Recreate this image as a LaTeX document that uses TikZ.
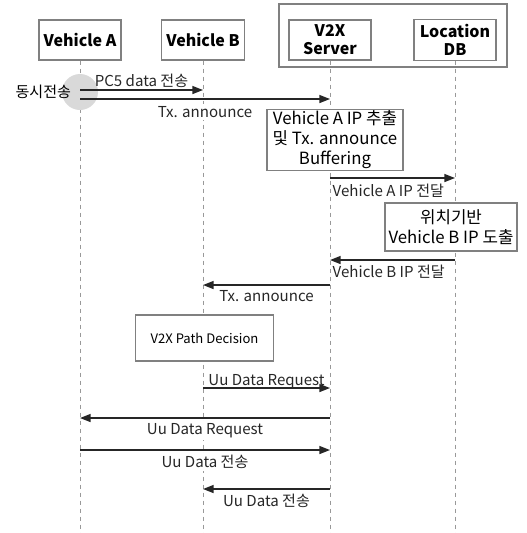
\documentclass[tikz,border=0pt]{standalone}
\usepackage{fontspec}
\setmainfont{Noto Sans CJK KR}
\usepackage{tikz}
\usetikzlibrary{arrows.meta, positioning}
\colorlet{colorBox}{black!50}
\colorlet{colorLife}{black!40}
\colorlet{colorMsg}{black!85}
\tikzset{
  actor/.style={draw=colorBox, fill=white, thick, minimum width=61.5pt, minimum height=30pt, align=center, font=\bfseries\fontsize{12}{13.5}\selectfont},
  life/.style={colorLife, dash pattern=on 3pt off 3pt},
  msg/.style={->, colorMsg, line width=1.1pt},
  lbl/.style={font=\fontsize{11.3}{13}\selectfont, inner sep=1.5pt},
  work/.style={draw=colorBox, fill=white, thick, align=center, inner sep=1pt, font=\fontsize{12.6}{15}\selectfont},
}

\begin{document}
\begin{tikzpicture}[x=0.75pt, y=-0.75pt, >={Triangle[length=8pt, width=6pt]}]
\useasboundingbox (0,0) rectangle (526,533);
% server side group
\draw[colorBox, thick] (279,4) rectangle (507,67);
\node[actor] (vA) at (80,40) {Vehicle A};
\node[actor] (vB) at (203,40) {Vehicle B};
\node[actor] (srv) at (330,40) {V2X\\Server};
\node[actor] (ldb) at (455,40) {Location\\DB};
% lifelines
\coordinate (bot) at (0,533);
\foreach \n in {vA,vB,srv,ldb} \draw[life] (\n.south) -- (\n.south |- bot);
% message rows
\coordinate (r1) at (0,90);
\coordinate (r2) at (0,99);
\coordinate (r3) at (0,178);
\coordinate (r4) at (0,260);
\coordinate (r5) at (0,285);
\coordinate (r6) at (0,388);
\coordinate (r7) at (0,418);
\coordinate (r8) at (0,450);
\coordinate (r9) at (0,489);
\node[circle, fill=black!15, minimum size=27pt, inner sep=0pt] (sync) at (80,92) {};
\node[lbl, anchor=east] (synclbl) at ([xshift=-5pt]sync.center) {동시전송};
\draw[msg] (vA |- r1) -- node[lbl, above] {PC5 data 전송} (vB |- r1);
\draw[msg] (vA |- r2) -- node[lbl, below, fill=white, yshift=-3.5pt] {Tx. announce} (srv |- r2);
\node[work, minimum width=102pt, minimum height=44pt] (extract) at (335,140) {Vehicle A IP 추출\\및 Tx. announce\\Buffering};
\draw[msg] (srv |- r3) -- node[lbl, pos=0, anchor=north west, yshift=-2.5pt] {Vehicle A IP 전달} (ldb |- r3);
\node[work, minimum width=99pt, minimum height=36pt] (locate) at (451,227) {위치기반\\Vehicle B IP 도출};
\draw[msg] (ldb |- r4) -- node[lbl, pos=1, anchor=north west, yshift=-2pt] {Vehicle B IP 전달} (srv |- r4);
\draw[msg] (srv |- r5) -- node[lbl, below, fill=white, yshift=-2pt] {Tx. announce} (vB |- r5);
\node[work, minimum width=104pt, minimum height=34.5pt, font=\fontsize{9.8}{11}\selectfont] (path) at (204.5,338) {V2X Path Decision};
\draw[msg] (vB |- r6) -- node[lbl, above, inner sep=0pt, yshift=-1.5pt] {Uu Data Request} (srv |- r6);
\draw[msg] (srv |- r7) -- node[lbl, below, fill=white, yshift=-2pt] {Uu Data Request} (vA |- r7);
\draw[msg] (vA |- r8) -- node[lbl, below, fill=white, yshift=-2pt] {Uu Data 전송} (srv |- r8);
\draw[msg] (srv |- r9) -- node[lbl, below, fill=white, yshift=-2pt] {Uu Data 전송} (vB |- r9);
\end{tikzpicture}
\end{document}
